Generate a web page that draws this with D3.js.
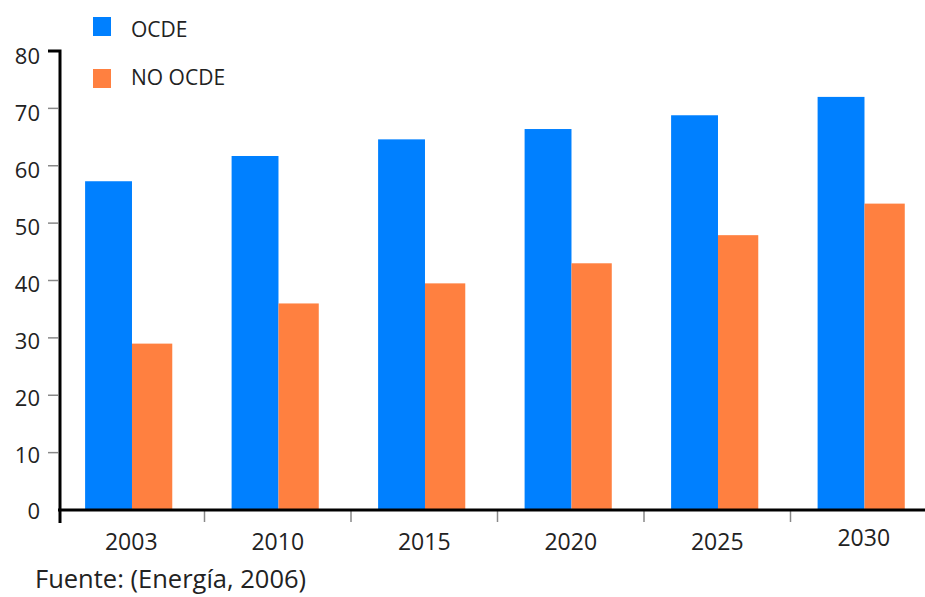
<!DOCTYPE html>
<html><head><meta charset="utf-8">
<script src="https://cdn.jsdelivr.net/npm/d3@7"></script>
<style>body{margin:0;background:#fff}svg{display:block}text{font-family:"Open Sans",sans-serif;fill:#222}</style>
</head><body>
<svg id="c" width="925" height="597"></svg>
<script>
const categories = ["2003","2010","2015","2020","2025","2030"];
const ocde = [57.3, 61.7, 64.6, 66.4, 68.8, 72.0];
const noOcde = [29.0, 36.0, 39.5, 43.0, 47.9, 53.4];
const yTicks = [0,10,20,30,40,50,60,70,80];
const seriesNames = ["OCDE","NO OCDE"];
const colors = ["#0080FF","#FF8040"];
const source = "Fuente: (Energía, 2006)";

const svg = d3.select("#c");
const x = d3.scaleBand().domain(categories).range([58, 937]);
const y = d3.scaleLinear().domain([0,80]).range([510, 51]);
const bw = x.bandwidth();

// bars
const g = svg.append("g");
g.selectAll(".b1").data(categories).enter().append("rect")
  .attr("x", d => x(d) + bw*0.185).attr("width", bw*0.32)
  .attr("y", (d,i) => y(ocde[i])).attr("height", (d,i) => y(0) - y(ocde[i]))
  .attr("fill", colors[0]);
g.selectAll(".b2").data(categories).enter().append("rect")
  .attr("x", d => x(d) + bw*0.505).attr("width", bw*0.275)
  .attr("y", (d,i) => y(noOcde[i])).attr("height", (d,i) => y(0) - y(noOcde[i]))
  .attr("fill", colors[1]);

// y axis
const ya = svg.append("g");
ya.selectAll("line.t").data(yTicks.slice(1, -1)).enter().append("line")
  .attr("x1", 48).attr("x2", 58).attr("y1", d => y(d)).attr("y2", d => y(d))
  .attr("stroke", "#888").attr("stroke-width", 1.5);
ya.selectAll("text").data(yTicks).enter().append("text")
  .attr("x", 40).attr("y", d => y(d) + 1.5 + d / 20).attr("dy", "0.36em")
  .attr("text-anchor", "end").attr("font-size", 22).text(d => d);
ya.append("path").attr("d", `M48,${y(80)}H60V${y(0)+13}`)
  .attr("fill", "none").attr("stroke", "#000").attr("stroke-width", 3);

// x axis
const xa = svg.append("g");
xa.selectAll("line").data(categories.slice(1)).enter().append("line")
  .attr("x1", d => x(d)).attr("x2", d => x(d)).attr("y1", y(0)).attr("y2", y(0)+12)
  .attr("stroke", "#888").attr("stroke-width", 1.5);
xa.append("line").attr("x1", 58).attr("x2", 925).attr("y1", y(0)).attr("y2", y(0))
  .attr("stroke", "#000").attr("stroke-width", 3);
xa.selectAll("text").data(categories).enter().append("text")
  .attr("x", d => x(d) + bw/2).attr("y", (d,i) => i === 5 ? 546 : 550)
  .attr("text-anchor", "middle").attr("font-size", 23).text(d => d);

// legend
const lg = svg.append("g");
seriesNames.forEach((s, i) => {
  lg.append("rect").attr("x", 93).attr("y", 17 + i*52).attr("width", 18).attr("height", 19).attr("fill", colors[i]);
  lg.append("text").attr("x", 131).attr("y", 37 + i*48).attr("font-size", 21).text(s);
});

svg.append("text").attr("x", 35).attr("y", 588).attr("font-size", 25.5).text(source);
</script>
</body></html>
